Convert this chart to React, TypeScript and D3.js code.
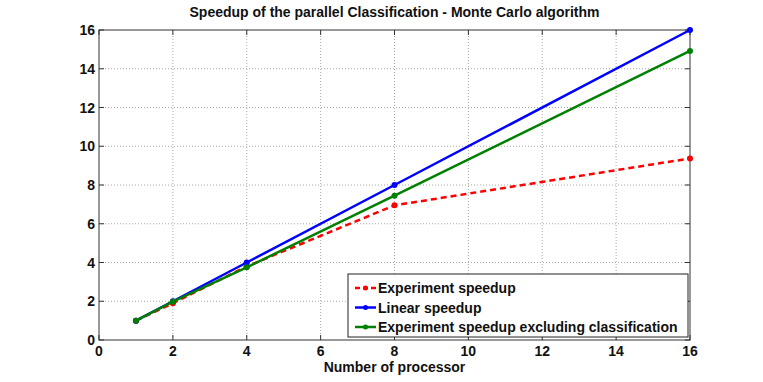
import * as d3 from "d3";

// processors on the x axis
const processors = [1, 2, 4, 8, 16];

// speedup values
const experimentSpeedup = [1, 1.9, 3.8, 6.95, 9.37];
const linearSpeedup = [1, 2, 4, 8, 16];
const excludingClassification = [1, 1.98, 3.75, 7.45, 14.92];

const xTicks = [0, 2, 4, 6, 8, 10, 12, 14, 16];
const yTicks = [0, 2, 4, 6, 8, 10, 12, 14, 16];

const seriesNames = [
  "Experiment speedup",
  "Linear speedup",
  "Experiment speedup excluding classification",
];

export default function App() {
  const width = 763;
  const height = 382;
  const marginLeft = 99;
  const marginRight = 73;
  const marginTop = 30;
  const marginBottom = 42;
  const font = "'Liberation Sans', Arial, Helvetica, sans-serif";

  const x = d3
    .scaleLinear()
    .domain([0, 16])
    .range([marginLeft, width - marginRight]);
  const y = d3
    .scaleLinear()
    .domain([0, 16])
    .range([height - marginBottom, marginTop]);

  const series = [
    { name: seriesNames[0], values: experimentSpeedup, color: "#ff0000", dash: "6,4" },
    { name: seriesNames[1], values: linearSpeedup, color: "#0000ff", dash: null },
    { name: seriesNames[2], values: excludingClassification, color: "#008000", dash: null },
  ];

  const line = d3
    .line<[number, number]>()
    .x((d) => x(d[0]))
    .y((d) => y(d[1]));

  const x0 = x(0);
  const x1 = x(16);
  const y0 = y(0);
  const y1 = y(16);

  const legendX = 348;
  const legendY = 274;
  const legendW = 340;
  const legendH = 63;

  return (
    <svg
      width={width}
      height={height}
      style={{ position: "absolute", left: 0, top: 0, background: "white" }}
      fontFamily={font}
    >
      {/* grid */}
      {xTicks.slice(1, -1).map((t) => (
        <line
          key={"gx" + t}
          x1={x(t)}
          x2={x(t)}
          y1={y0}
          y2={y1}
          stroke="#aaa"
          strokeWidth={1}
          strokeDasharray="1,2"
        />
      ))}
      {yTicks.slice(1, -1).map((t) => (
        <line
          key={"gy" + t}
          x1={x0}
          x2={x1}
          y1={y(t)}
          y2={y(t)}
          stroke="#aaa"
          strokeWidth={1}
          strokeDasharray="1,2"
        />
      ))}

      {/* box */}
      <rect x={x0} y={y1} width={x1 - x0} height={y0 - y1} fill="none" stroke="#333" strokeWidth={1} />

      {/* ticks */}
      {xTicks.map((t) => (
        <g key={"tx" + t}>
          <line x1={x(t)} x2={x(t)} y1={y0} y2={y0 - 5} stroke="#333" />
          <line x1={x(t)} x2={x(t)} y1={y1} y2={y1 + 5} stroke="#333" />
          <text x={x(t)} y={y0 + 16} textAnchor="middle" fontSize={14} fontWeight="bold" fill="#111">
            {t}
          </text>
        </g>
      ))}
      {yTicks.map((t) => (
        <g key={"ty" + t}>
          <line x1={x0} x2={x0 + 5} y1={y(t)} y2={y(t)} stroke="#333" />
          <line x1={x1} x2={x1 - 5} y1={y(t)} y2={y(t)} stroke="#333" />
          <text x={x0 - 4} y={y(t) + 5} textAnchor="end" fontSize={14} fontWeight="bold" fill="#111">
            {t}
          </text>
        </g>
      ))}

      {/* series */}
      {series.map((s) => (
        <g key={s.name}>
          <path
            d={line(processors.map((p, i) => [p, s.values[i]] as [number, number])) || ""}
            fill="none"
            stroke={s.color}
            strokeWidth={2.5}
            strokeDasharray={s.dash || undefined}
          />
          {processors.map((p, i) => (
            <circle key={p} cx={x(p)} cy={y(s.values[i])} r={3} fill={s.color} />
          ))}
        </g>
      ))}

      {/* title and labels */}
      <text x={(x0 + x1) / 2} y={17} textAnchor="middle" fontSize={14} fontWeight="bold" fill="#111">
        Speedup of the parallel Classification - Monte Carlo algorithm
      </text>
      <text x={(x0 + x1) / 2} y={372} textAnchor="middle" fontSize={14} fontWeight="bold" fill="#111">
        Number of processor
      </text>

      {/* legend */}
      <rect x={legendX} y={legendY} width={legendW} height={legendH} fill="white" stroke="#222" strokeWidth={1} />
      {series.map((s, i) => {
        const ly = legendY + 14 + i * 19.5;
        return (
          <g key={"lg" + s.name}>
            <line
              x1={legendX + 7}
              x2={legendX + 28}
              y1={ly}
              y2={ly}
              stroke={s.color}
              strokeWidth={2.5}
              strokeDasharray={s.dash ? "5,3" : undefined}
            />
            <circle cx={legendX + 17.5} cy={ly} r={2.5} fill={s.color} />
            <text x={legendX + 30} y={ly + 5} fontSize={14} fontWeight="bold" fill="#111">
              {s.name}
            </text>
          </g>
        );
      })}
    </svg>
  );
}
